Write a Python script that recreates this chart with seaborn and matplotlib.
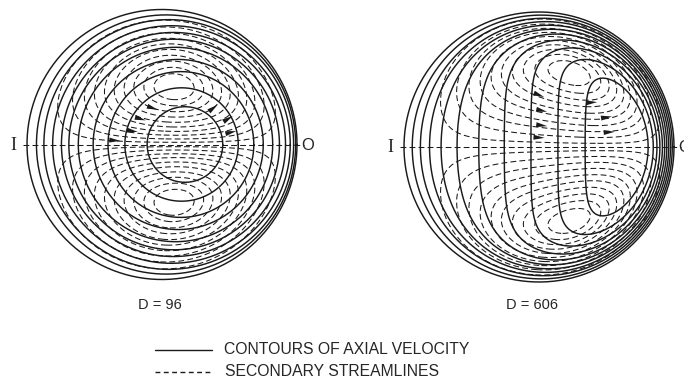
import numpy as np
import matplotlib
matplotlib.use("Agg")
import matplotlib.pyplot as plt
import seaborn as sns

# ---------------- data (pipe radius = 1) ----------------
# D = 96 : axial-velocity contours are nearly circles displaced toward O
d96_offsets = [0.17, 0.145, 0.14, 0.12, 0.10, 0.09, 0.085, 0.07, 0.05, 0.03, 0.0]
d96_radii = [0.28, 0.42, 0.54, 0.63, 0.72, 0.78, 0.83, 0.88, 0.925, 0.96, 1.0]
# D = 96 : secondary streamlines (fraction of max stream function)
d96_psi_levels = [0.06, 0.15, 0.25, 0.35, 0.46, 0.57, 0.68, 0.78, 0.87, 0.94]
d96_psi_shift = 0.5
d96_arrow_x = [-0.35, -0.22, -0.16, -0.07, 0.38, 0.49, 0.51]
d96_arrow_y = [0.03, 0.10, 0.19, 0.27, 0.27, 0.19, 0.09]

# D = 606 : axial-velocity contour levels and core / boundary-layer parameters
d606_w_levels = [1, 2, 3, 4, 5, 6, 7, 8, 9, 10]
d606_core_slope = 5.0
d606_core_origin = 1.66
d606_bl_outer = 0.17
d606_bl_inner = 0.215
# D = 606 : secondary streamlines
d606_psi_levels = [0.07, 0.18, 0.29, 0.40, 0.51, 0.61, 0.71, 0.80, 0.88, 0.95]
d606_psi_shift = 0.7
d606_psi_inner_bl = 0.5
d606_arrow_x = [0.0, 0.02, 0.02, 0.0, 0.39, 0.50, 0.52]
d606_arrow_y = [0.385, 0.27, 0.16, 0.07, 0.33, 0.22, 0.11]

panel_labels = ["D = 96", "D = 606"]
legend_labels = ["CONTOURS OF AXIAL VELOCITY", "SECONDARY STREAMLINES"]

# ---------------- layout (pixels) ----------------
W, H = 684, 381
centers = [(162, 144.5), (539, 147)]
radius = 135

sns.set_theme(style="white")
plt.rcParams["lines.scale_dashes"] = False
plt.rcParams["font.family"] = ["Liberation Sans", "DejaVu Sans"]

fig = plt.figure(figsize=(W / 100, H / 100), dpi=100)
ax = fig.add_axes([0, 0, 1, 1])
ax.set_xlim(0, W)
ax.set_ylim(H, 0)
ax.set_aspect("equal")
ax.axis("off")

DASH = (0, (4.2, 2.3))
SOLID_LW = 1.05
DASH_LW = 0.75

n = 700
g = np.linspace(-1.0, 1.0, n)
X, Y = np.meshgrid(g, g)
R2 = X ** 2 + Y ** 2
inside = R2 <= 1.0


def to_px(c, xr, yr):
    return c[0] + radius * xr, c[1] - radius * yr


def psi96(x, y):
    r2 = x ** 2 + y ** 2
    return y * (1 - r2) ** 2 * (4 - r2) * np.exp(d96_psi_shift * x)


def psi606(x, y):
    r2 = x ** 2 + y ** 2
    return (y * np.clip(1 - r2 ** 2, 0, None) ** 2
            * np.tanh((1 + x) / d606_psi_inner_bl) * np.exp(d606_psi_shift * x))


def draw_psi(c, fn, levels):
    P = np.where(inside, fn(X, Y), np.nan)
    pmax = np.nanmax(P)
    lv = sorted([-l * pmax for l in levels] + [l * pmax for l in levels])
    px, py = to_px(c, X, Y)
    ax.contour(px, py, P, levels=lv, colors="k", linewidths=DASH_LW,
               linestyles=[DASH])
    # I-O diameter (zero streamline)
    ax.plot([c[0] - radius * 1.03, c[0] + radius * 1.05], [c[1], c[1]],
            color="k", lw=DASH_LW, ls=DASH)


def draw_arrows(c, fn, xs, ys):
    h = 1e-4
    for xa, ya in zip(xs, ys):
        u = (fn(xa, ya + h) - fn(xa, ya - h)) / (2 * h)
        v = -(fn(xa + h, ya) - fn(xa - h, ya)) / (2 * h)
        d = np.array([u, -v])
        d = d / np.hypot(*d)
        nrm = np.array([-d[1], d[0]])
        px, py = to_px(c, xa, ya)
        p = np.array([px, py])
        L, Wd = 11.0, 5.0
        tip = p + d * L * 0.5
        b1 = p - d * L * 0.5 + nrm * Wd * 0.5
        b2 = p - d * L * 0.5 - nrm * Wd * 0.5
        ax.fill([tip[0], b1[0], b2[0]], [tip[1], b1[1], b2[1]], color="k", lw=0, zorder=5)


# ---------- D = 96 ----------
c = centers[0]
t = np.linspace(0, 2 * np.pi, 400)
for off, rr in zip(d96_offsets, d96_radii):
    xs, ys = to_px(c, off + rr * np.cos(t), rr * np.sin(t))
    sns.lineplot(x=xs, y=ys, sort=False, estimator=None, color="k", lw=SOLID_LW, ax=ax)
draw_psi(c, psi96, d96_psi_levels)
draw_arrows(c, psi96, d96_arrow_x, d96_arrow_y)

# ---------- D = 606 ----------
c = centers[1]
Rr = np.sqrt(R2)
cos_t = np.where(Rr > 0, X / np.maximum(Rr, 1e-9), 0)
delta = d606_bl_outer + (d606_bl_inner - d606_bl_outer) * (1 - cos_t) / 2
Wf = d606_core_slope * (X + d606_core_origin) * np.tanh((1 - Rr) / delta)
Wf = np.where(inside, Wf, np.nan)
px, py = to_px(c, X, Y)
ax.contour(px, py, Wf, levels=d606_w_levels, colors="k", linewidths=SOLID_LW,
           linestyles="solid")
xs, ys = to_px(c, np.cos(t), np.sin(t))
sns.lineplot(x=xs, y=ys, sort=False, estimator=None, color="k", lw=SOLID_LW, ax=ax)
draw_psi(c, psi606, d606_psi_levels)
draw_arrows(c, psi606, d606_arrow_x, d606_arrow_y)

# ---------- labels ----------
for cc in centers:
    ax.text(cc[0] - radius - 14, cc[1] + 1, "I", family=["Liberation Serif"], fontsize=13,
            ha="center", va="center")
    ax.text(cc[0] + radius + 11, cc[1] + 1, "O", family=["Liberation Sans"], fontsize=12,
            ha="center", va="center")
ax.text(160, 305, panel_labels[0], fontsize=10.5, ha="center", va="center")
ax.text(532, 305, panel_labels[1], fontsize=10.5, ha="center", va="center")

# ---------- legend ----------
sns.lineplot(x=[155, 212], y=[350, 350], color="k", lw=1.0, ax=ax)
ax.plot([155, 212], [372, 372], color="k", lw=1.0, ls=(0, (3.5, 2.5)))
ax.text(224, 350, legend_labels[0], fontsize=11.3, ha="left", va="center")
ax.text(225, 372, legend_labels[1], fontsize=11.3, ha="left", va="center")

fig.savefig("out.png", dpi=100, facecolor="white")
